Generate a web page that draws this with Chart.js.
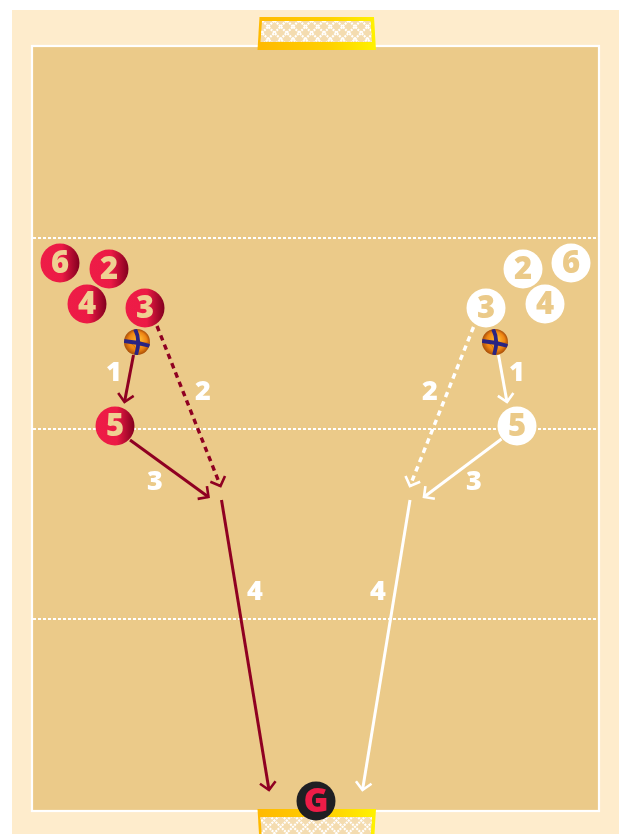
<!DOCTYPE html>
<html>
<head>
<meta charset="utf-8">
<script src="https://cdn.jsdelivr.net/npm/chart.js@4"></script>
<style>
  body { margin: 0; background: #fff; }
  canvas { display: block; }
</style>
</head>
<body>
<canvas id="court" width="619" height="834"></canvas>
<script>
// everything below is in court units (1 unit = 1px of the photo)
var redX = [60, 109, 87, 145, 115];
var redY = [263, 269, 304, 308, 426];
var whiteX = [571, 523, 545, 486, 517];
var whiteY = [263, 269, 304, 308, 426];
var playerLabels = ['6', '2', '4', '3', '5'];

var ballX = [137, 495];
var ballY = [342, 342];

var keeperX = [316];
var keeperY = [801];
var keeperLabel = 'G';

var zoneLineY = [238, 429, 619];
var courtX = [32, 599];
var courtY = [46, 811];

// arrows: [x0, x1], [y0, y1]
var redRun1X = [133.5, 124.5],  redRun1Y = [355, 402];
var redRun2X = [157, 220.5],    redRun2Y = [326, 486];
var redRun3X = [130, 208.5],    redRun3Y = [440, 497];
var redRun4X = [221.5, 269],    redRun4Y = [500, 790];
var whiteRun1X = [498.5, 507],  whiteRun1Y = [355, 402];
var whiteRun2X = [473.5, 410],  whiteRun2Y = [327, 486];
var whiteRun3X = [501.5, 424],  whiteRun3Y = [439, 497];
var whiteRun4X = [410, 362.5],  whiteRun4Y = [500, 790];

var runLabels = ['1', '2', '3', '4', '1', '2', '3', '4'];
var runLabelX = [114, 203, 155, 255, 517, 430, 474, 378];
var runLabelY = [372, 391, 481, 591, 372, 391, 481, 591];

var RED_LINE = '#8f0022';
var FONT = '"Open Sans", sans-serif';

function xy(xs, ys) {
    return xs.map(function (x, i) { return { x: x, y: ys[i] }; });
}

function runDataset(xs, ys, color, dashed) {
    return {
        type: 'line',
        data: xy(xs, ys),
        borderColor: color,
        borderWidth: dashed ? 3.4 : 3,
        borderDash: dashed ? [5.5, 4.5] : [],
        borderCapStyle: 'butt',
        pointRadius: 0,
        fill: false,
        isRun: true,
        order: 5
    };
}

function zoneDataset(y) {
    return {
        type: 'line',
        data: [{ x: courtX[0] + 1, y: y }, { x: courtX[1] - 1, y: y }],
        borderColor: '#ffffff',
        borderWidth: 2,
        borderDash: [3, 2],
        pointRadius: 0,
        fill: false,
        order: 6
    };
}

function ballImage() {
    var c = document.createElement('canvas');
    c.width = 26;
    c.height = 26;
    var g = c.getContext('2d');
    var grad = g.createRadialGradient(15, 10, 2, 13, 13, 13);
    grad.addColorStop(0, '#fbb02d');
    grad.addColorStop(0.65, '#ee8412');
    grad.addColorStop(1, '#a94e08');
    g.fillStyle = grad;
    g.beginPath();
    g.arc(13, 13, 13, 0, Math.PI * 2);
    g.fill();
    g.save();
    g.clip();
    g.strokeStyle = '#c96a10';
    g.lineWidth = 0.8;
    g.beginPath();
    g.arc(21, 5, 9, 0, Math.PI * 2);
    g.moveTo(12, 22);
    g.arc(4, 22, 8, 0, Math.PI * 2);
    g.stroke();
    g.strokeStyle = '#2a2482';
    g.lineWidth = 3.8;
    g.beginPath();
    g.moveTo(11, 0);
    g.quadraticCurveTo(17, 11, 12, 26);
    g.moveTo(0, 12);
    g.quadraticCurveTo(13, 13, 26, 17);
    g.stroke();
    g.restore();
    return c;
}

function redGradient(ctx) {
    if (ctx.type !== 'data') return '#ee1c47';
    var chart = ctx.chart;
    var px = chart.scales.x.getPixelForValue(redX[ctx.dataIndex]);
    if (!isFinite(px)) return '#ee1c47';
    var grad = chart.ctx.createLinearGradient(px - 19, 0, px + 19, 0);
    grad.addColorStop(0, '#ee1c47');
    grad.addColorStop(0.55, '#ec1a45');
    grad.addColorStop(1, '#85001f');
    return grad;
}

function trapezoid(g, y0, y1, x0a, x0b, x1a, x1b) {
    g.beginPath();
    g.moveTo(x0a, y0);
    g.lineTo(x0b, y0);
    g.lineTo(x1b, y1);
    g.lineTo(x1a, y1);
    g.closePath();
}

// goal: back edge first, then goal line, dir says which way is out of the court
function drawGoal(g, sx, sy, yLine, dir) {
    var grad = g.createLinearGradient(sx.getPixelForValue(257), 0, sx.getPixelForValue(376), 0);
    grad.addColorStop(0, '#ffb900');
    grad.addColorStop(0.6, '#ffd000');
    grad.addColorStop(1, '#fff200');
    g.fillStyle = grad;
    trapezoid(g, sy.getPixelForValue(yLine + dir * 31), sy.getPixelForValue(yLine + dir * -2),
        259.5, 374, 257.5, 376);
    g.fill();

    g.save();
    trapezoid(g, sy.getPixelForValue(yLine + dir * 27), sy.getPixelForValue(yLine + dir * 6),
        262, 370.5, 260.5, 372);
    g.fillStyle = '#f4dcb0';
    g.fill();
    g.clip();
    g.strokeStyle = '#ffffff';
    g.lineWidth = 2.2;
    g.setLineDash([2, 1]);
    g.beginPath();
    for (var x = 200; x < 440; x += 12.4) {
        g.moveTo(x, yLine - 40);
        g.lineTo(x + 80, yLine + 40);
        g.moveTo(x, yLine - 40);
        g.lineTo(x - 80, yLine + 40);
    }
    g.stroke();
    g.restore();
}

var courtPlugin = {
    id: 'courtPlugin',
    beforeDatasetsDraw: function (chart) {
        var g = chart.ctx, sx = chart.scales.x, sy = chart.scales.y;
        g.save();
        g.fillStyle = '#feeccc';
        g.fillRect(sx.getPixelForValue(12), sy.getPixelForValue(10), 607, 824);
        var left = sx.getPixelForValue(courtX[0]), top = sy.getPixelForValue(courtY[0]);
        var w = sx.getPixelForValue(courtX[1]) - left, h = sy.getPixelForValue(courtY[1]) - top;
        g.fillStyle = '#ebca89';
        g.fillRect(left, top, w, h);
        g.strokeStyle = '#ffffff';
        g.lineWidth = 2.2;
        g.strokeRect(left, top, w, h);
        drawGoal(g, sx, sy, 48, -1);
        drawGoal(g, sx, sy, 811, 1);
        g.restore();
    },
    afterDatasetsDraw: function (chart) {
        var g = chart.ctx, sx = chart.scales.x, sy = chart.scales.y;
        g.save();
        // arrow heads sit on the last point of each run
        chart.data.datasets.forEach(function (ds) {
            if (!ds.isRun) return;
            var a = ds.data[0], b = ds.data[1];
            var tipX = sx.getPixelForValue(b.x), tipY = sy.getPixelForValue(b.y);
            var ang = Math.atan2(tipY - sy.getPixelForValue(a.y), tipX - sx.getPixelForValue(a.x));
            g.strokeStyle = ds.borderColor;
            g.lineWidth = 2.6;
            g.lineJoin = 'miter';
            g.beginPath();
            g.moveTo(tipX - 11 * Math.cos(ang - 0.8), tipY - 11 * Math.sin(ang - 0.8));
            g.lineTo(tipX, tipY);
            g.lineTo(tipX - 11 * Math.cos(ang + 0.8), tipY - 11 * Math.sin(ang + 0.8));
            g.stroke();
        });

        g.textAlign = 'center';
        g.textBaseline = 'middle';
        g.font = '800 31px ' + FONT;
        g.fillStyle = '#efd092';
        playerLabels.forEach(function (t, i) {
            g.fillText(t, sx.getPixelForValue(redX[i]), sy.getPixelForValue(redY[i]) + 1);
        });
        g.fillStyle = '#ebca89';
        playerLabels.forEach(function (t, i) {
            g.fillText(t, sx.getPixelForValue(whiteX[i]), sy.getPixelForValue(whiteY[i]) + 1);
        });
        g.fillStyle = '#ee1c47';
        g.font = '800 34px ' + FONT;
        g.fillText(keeperLabel, sx.getPixelForValue(keeperX[0]), sy.getPixelForValue(keeperY[0]) + 1);

        g.fillStyle = '#ffffff';
        g.font = '800 27px ' + FONT;
        runLabels.forEach(function (t, i) {
            g.fillText(t, sx.getPixelForValue(runLabelX[i]), sy.getPixelForValue(runLabelY[i]) + 1);
        });
        g.restore();
    }
};

var datasets = zoneLineY.map(zoneDataset);
datasets.push(runDataset(redRun1X, redRun1Y, RED_LINE, false));
datasets.push(runDataset(redRun2X, redRun2Y, RED_LINE, true));
datasets.push(runDataset(redRun3X, redRun3Y, RED_LINE, false));
datasets.push(runDataset(redRun4X, redRun4Y, RED_LINE, false));
datasets.push(runDataset(whiteRun1X, whiteRun1Y, '#ffffff', false));
datasets.push(runDataset(whiteRun2X, whiteRun2Y, '#ffffff', true));
datasets.push(runDataset(whiteRun3X, whiteRun3Y, '#ffffff', false));
datasets.push(runDataset(whiteRun4X, whiteRun4Y, '#ffffff', false));
datasets.push({
    data: xy(redX, redY),
    pointRadius: 19.5,
    pointBorderWidth: 0,
    backgroundColor: redGradient,
    order: 3
});
datasets.push({
    data: xy(whiteX, whiteY),
    pointRadius: 19.5,
    pointBorderWidth: 0,
    backgroundColor: '#ffffff',
    order: 3
});
datasets.push({
    data: xy(keeperX, keeperY),
    pointRadius: 19.5,
    pointBorderWidth: 0,
    backgroundColor: '#1f1f23',
    order: 2
});
datasets.push({
    data: xy(ballX, ballY),
    pointStyle: ballImage(),
    order: 1
});

var ctx = document.getElementById('court').getContext('2d');
var myChart = new Chart(ctx, {
    type: 'scatter',
    data: { datasets: datasets },
    options: {
        responsive: false,
        animation: false,
        layout: { padding: 0, autoPadding: false },
        clip: false,
        scales: {
            x: { type: 'linear', display: false, min: 0, max: 619 },
            y: { type: 'linear', display: false, min: 0, max: 834, reverse: true }
        },
        plugins: {
            legend: { display: false },
            tooltip: { enabled: false }
        }
    },
    plugins: [courtPlugin]
});
</script>
</body>
</html>
